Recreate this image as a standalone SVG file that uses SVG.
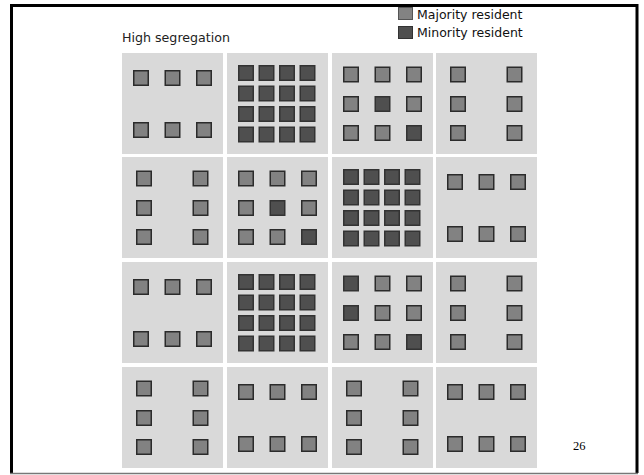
<svg xmlns="http://www.w3.org/2000/svg" xmlns:xlink="http://www.w3.org/1999/xlink" width="644" height="475" viewBox="0 0 644 475">
<style>
.bg{fill:#d9d9d9}
.maj{fill:#828282;stroke:#2b2b2b;stroke-width:1.5}
.min{fill:#4f4f4f;stroke:#333;stroke-width:1.5}
.lbl{font-family:"DejaVu Sans",Verdana,sans-serif;font-size:12.5px;fill:#111}
.ttl{font-family:"DejaVu Sans",Verdana,sans-serif;font-size:13px;fill:#222}
.num{font-family:"Liberation Serif","Times New Roman",serif;font-size:12.5px;fill:#000}
</style>
<defs>
<rect id="sqM" class="maj" width="14.5" height="14.5"/>
<rect id="sqN" class="min" width="14.5" height="14.5"/>
<g id="patA">
<use xlink:href="#sqM" x="11.75" y="17.75"/><use xlink:href="#sqM" x="43.25" y="17.75"/><use xlink:href="#sqM" x="74.75" y="17.75"/>
<use xlink:href="#sqM" x="11.75" y="69.75"/><use xlink:href="#sqM" x="43.25" y="69.75"/><use xlink:href="#sqM" x="74.75" y="69.75"/>
</g>
<g id="patB">
<use xlink:href="#sqM" x="14.75" y="14.25"/><use xlink:href="#sqM" x="71.25" y="14.25"/>
<use xlink:href="#sqM" x="14.75" y="43.75"/><use xlink:href="#sqM" x="71.25" y="43.75"/>
<use xlink:href="#sqM" x="14.75" y="72.75"/><use xlink:href="#sqM" x="71.25" y="72.75"/>
</g>
<g id="patD">
<use xlink:href="#sqN" x="11.75" y="12.75"/><use xlink:href="#sqN" x="32.25" y="12.75"/><use xlink:href="#sqN" x="52.75" y="12.75"/><use xlink:href="#sqN" x="73.25" y="12.75"/>
<use xlink:href="#sqN" x="11.75" y="33.25"/><use xlink:href="#sqN" x="32.25" y="33.25"/><use xlink:href="#sqN" x="52.75" y="33.25"/><use xlink:href="#sqN" x="73.25" y="33.25"/>
<use xlink:href="#sqN" x="11.75" y="53.75"/><use xlink:href="#sqN" x="32.25" y="53.75"/><use xlink:href="#sqN" x="52.75" y="53.75"/><use xlink:href="#sqN" x="73.25" y="53.75"/>
<use xlink:href="#sqN" x="11.75" y="74.25"/><use xlink:href="#sqN" x="32.25" y="74.25"/><use xlink:href="#sqN" x="52.75" y="74.25"/><use xlink:href="#sqN" x="73.25" y="74.25"/>
</g>
<rect id="cellbg" class="bg" width="101" height="101"/>
</defs>
<rect width="644" height="475" fill="#fff"/>
<g id="frame">
<line x1="10" y1="5.5" x2="638" y2="5.5" stroke="#000" stroke-width="3"/>
<line x1="11.5" y1="4" x2="11.5" y2="473" stroke="#000" stroke-width="3"/>
<line x1="637" y1="4" x2="637" y2="473" stroke="#000" stroke-width="3"/>
<line x1="10" y1="473.5" x2="638" y2="473.5" stroke="#777" stroke-width="1.5"/>
</g>
<g id="legend">
<rect x="398.5" y="7.5" width="14" height="12" fill="#838383" stroke="#555" stroke-width="1"/>
<text class="lbl" x="417" y="18.5">Majority resident</text>
<rect x="398.5" y="26.5" width="14" height="12" fill="#4f4f4f" stroke="#333" stroke-width="1"/>
<text class="lbl" x="417" y="37">Minority resident</text>
</g>
<g id="title"><text class="ttl" x="122" y="41.5" textLength="108" lengthAdjust="spacingAndGlyphs">High segregation</text></g>
<g id="cell-r1c1" transform="translate(122,53)"><use xlink:href="#cellbg"/><use xlink:href="#patA"/></g>
<g id="cell-r1c2" transform="translate(227,53)"><use xlink:href="#cellbg"/><use xlink:href="#patD"/></g>
<g id="cell-r1c3" transform="translate(332,53)"><use xlink:href="#cellbg"/>
<use xlink:href="#sqM" x="11.75" y="14.25"/><use xlink:href="#sqM" x="43.25" y="14.25"/><use xlink:href="#sqM" x="74.75" y="14.25"/>
<use xlink:href="#sqM" x="11.75" y="43.75"/><use xlink:href="#sqN" x="43.25" y="43.75"/><use xlink:href="#sqM" x="74.75" y="43.75"/>
<use xlink:href="#sqM" x="11.75" y="72.75"/><use xlink:href="#sqM" x="43.25" y="72.75"/><use xlink:href="#sqN" x="74.75" y="72.75"/>
</g>
<g id="cell-r1c4" transform="translate(436,53)"><use xlink:href="#cellbg"/><use xlink:href="#patB"/></g>
<g id="cell-r2c1" transform="translate(122,157)"><use xlink:href="#cellbg"/><use xlink:href="#patB"/></g>
<g id="cell-r2c2" transform="translate(227,157)"><use xlink:href="#cellbg"/>
<use xlink:href="#sqM" x="11.75" y="14.25"/><use xlink:href="#sqM" x="43.25" y="14.25"/><use xlink:href="#sqM" x="74.75" y="14.25"/>
<use xlink:href="#sqM" x="11.75" y="43.75"/><use xlink:href="#sqN" x="43.25" y="43.75"/><use xlink:href="#sqM" x="74.75" y="43.75"/>
<use xlink:href="#sqM" x="11.75" y="72.75"/><use xlink:href="#sqM" x="43.25" y="72.75"/><use xlink:href="#sqN" x="74.75" y="72.75"/>
</g>
<g id="cell-r2c3" transform="translate(332,157)"><use xlink:href="#cellbg"/><use xlink:href="#patD"/></g>
<g id="cell-r2c4" transform="translate(436,157)"><use xlink:href="#cellbg"/><use xlink:href="#patA"/></g>
<g id="cell-r3c1" transform="translate(122,262)"><use xlink:href="#cellbg"/><use xlink:href="#patA"/></g>
<g id="cell-r3c2" transform="translate(227,262)"><use xlink:href="#cellbg"/><use xlink:href="#patD"/></g>
<g id="cell-r3c3" transform="translate(332,262)"><use xlink:href="#cellbg"/>
<use xlink:href="#sqN" x="11.75" y="14.25"/><use xlink:href="#sqM" x="43.25" y="14.25"/><use xlink:href="#sqM" x="74.75" y="14.25"/>
<use xlink:href="#sqN" x="11.75" y="43.75"/><use xlink:href="#sqM" x="43.25" y="43.75"/><use xlink:href="#sqM" x="74.75" y="43.75"/>
<use xlink:href="#sqM" x="11.75" y="72.75"/><use xlink:href="#sqM" x="43.25" y="72.75"/><use xlink:href="#sqN" x="74.75" y="72.75"/>
</g>
<g id="cell-r3c4" transform="translate(436,262)"><use xlink:href="#cellbg"/><use xlink:href="#patB"/></g>
<g id="cell-r4c1" transform="translate(122,367)"><use xlink:href="#cellbg"/><use xlink:href="#patB"/></g>
<g id="cell-r4c2" transform="translate(227,367)"><use xlink:href="#cellbg"/><use xlink:href="#patA"/></g>
<g id="cell-r4c3" transform="translate(332,367)"><use xlink:href="#cellbg"/><use xlink:href="#patB"/></g>
<g id="cell-r4c4" transform="translate(436,367)"><use xlink:href="#cellbg"/><use xlink:href="#patA"/></g>
<g id="connectors"/>
<text class="num" x="573" y="450">26</text>
</svg>
